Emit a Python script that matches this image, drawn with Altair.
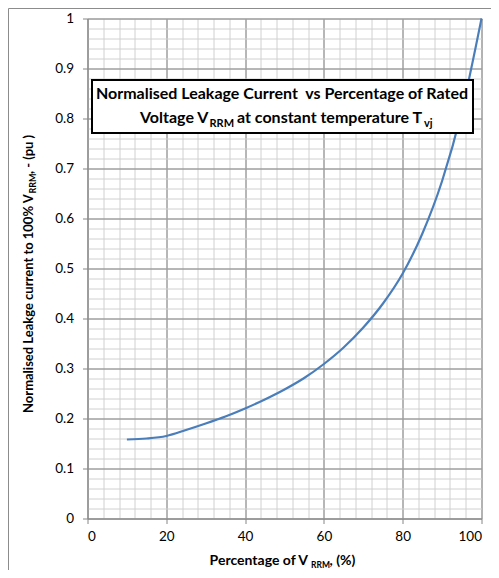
import altair as alt
import pandas as pd

# ---- data ----
x_pct = [10, 15, 20, 25, 30, 35, 40, 45, 50, 55, 60, 65, 70, 75, 80, 85, 90, 95, 100]
leak = [0.158, 0.160, 0.165, 0.177, 0.190, 0.204, 0.220, 0.238, 0.258, 0.281,
        0.309, 0.342, 0.382, 0.430, 0.490, 0.570, 0.675, 0.815, 1.000]

x_major = [0, 20, 40, 60, 80, 100]
x_minor = [0, 4, 8, 12, 16, 20, 24, 28, 32, 36, 40, 44, 48, 52, 56, 60, 64, 68,
           72, 76, 80, 84, 88, 92, 96, 100]
y_major = [0, 0.1, 0.2, 0.3, 0.4, 0.5, 0.6, 0.7, 0.8, 0.9, 1.0]
y_minor = [0, 0.02, 0.04, 0.06, 0.08, 0.1, 0.12, 0.14, 0.16, 0.18, 0.2, 0.22, 0.24,
           0.26, 0.28, 0.3, 0.32, 0.34, 0.36, 0.38, 0.4, 0.42, 0.44, 0.46, 0.48, 0.5,
           0.52, 0.54, 0.56, 0.58, 0.6, 0.62, 0.64, 0.66, 0.68, 0.7, 0.72, 0.74, 0.76,
           0.78, 0.8, 0.82, 0.84, 0.86, 0.88, 0.9, 0.92, 0.94, 0.96, 0.98, 1.0]

df = pd.DataFrame({"x": x_pct, "y": leak})
one = pd.DataFrame({"a": [0]})

FONT = "Lato"
MAJ = "#868686"
MIN = "#d0d0d0"

xs = alt.Scale(domain=[0, 100], nice=False, zero=False)
ys = alt.Scale(domain=[0, 1], nice=False, zero=False)

minor = alt.Chart(df).mark_point(opacity=0).encode(
    x=alt.X("x:Q", scale=xs, axis=alt.Axis(values=x_minor, grid=True, gridColor=MIN,
            gridWidth=1, labels=False, ticks=False, domain=False, title=None, orient="bottom")),
    y=alt.Y("y:Q", scale=ys, axis=alt.Axis(values=y_minor, grid=True, gridColor=MIN,
            gridWidth=1, labels=False, ticks=False, domain=False, title=None, orient="left")),
)

curve = alt.Chart(df).mark_line(color="#4a7ebb", strokeWidth=2.2, interpolate="monotone").encode(
    x=alt.X("x:Q", scale=xs, axis=alt.Axis(values=x_major, grid=True, gridColor=MAJ,
            domainColor=MAJ, tickColor=MAJ, tickSize=5, labelPadding=6,
            labelFont=FONT, labelFontSize=13.5, labelColor="#000", title=None, orient="bottom")),
    y=alt.Y("y:Q", scale=ys, axis=alt.Axis(values=y_major, grid=True, gridColor=MAJ,
            domainColor=MAJ, tickColor=MAJ, tickSize=5, labelPadding=9,
            labelExpr="format(datum.value, '.1~f')",
            labelFont=FONT, labelFontSize=13.5, labelColor="#000", title=None, orient="left")),
)

box = alt.Chart(one).mark_rect(fill="white", stroke="black", strokeWidth=2).encode(
    x=alt.value(4.5), x2=alt.value(385.5), y=alt.value(61.5), y2=alt.value(114.5))

def txt(s, x, y, size, align="left", angle=0, bold=True):
    return alt.Chart(one).mark_text(
        text=s, font=FONT, fontSize=size, fontWeight="bold" if bold else "normal",
        align=align, baseline="alphabetic", angle=angle, color="black"
    ).encode(x=alt.value(x), y=alt.value(y))

title_parts = [
    txt("Normalised Leakage Current\u00a0 vs Percentage of Rated", 194.5, 80, 16, align="center"),
    txt("Voltage V", 52.5, 104.5, 16),
    txt("RRM", 122, 108, 11),
    txt("at constant temperature T", 149.5, 104.5, 16),
    txt("vj", 336.5, 108, 11),
]

xtitle = [
    txt("Percentage of V", 220.5, 546.5, 14, align="right"),
    txt("RRM", 223.5, 549.5, 8.5),
    txt(", (%)", 242, 546.5, 14),
]

ytitle = [
    txt("Normalised Leakge current to 100% V", -54.5, 394.5, 13, angle=270),
    txt("RRM", -51.5, 175, 9, angle=270),
    txt(", - (pu )", -54.5, 155.5, 13, angle=270),
]

border_left = alt.Chart(one).mark_rule(color="#8c8c8c", strokeWidth=1).encode(
    x=alt.value(-79), y=alt.value(-10), y2=alt.value(570))
border_top = alt.Chart(one).mark_rule(color="#8c8c8c", strokeWidth=1).encode(
    x=alt.value(-79), x2=alt.value(410), y=alt.value(-10))

chart = alt.layer(
    minor, curve, box, *title_parts, *xtitle, *ytitle, border_left, border_top
).resolve_scale(x="independent", y="independent").resolve_axis(
    x="independent", y="independent"
).properties(
    width=394, height=500,
    autosize=alt.AutoSizeParams(type="none"),
    padding={"left": 79.5, "top": 10.5, "right": 9.5, "bottom": 51.5},
).configure_view(stroke=None).configure(background="white")

chart.save("out.html", embed_options={"renderer": "svg", "actions": False})
